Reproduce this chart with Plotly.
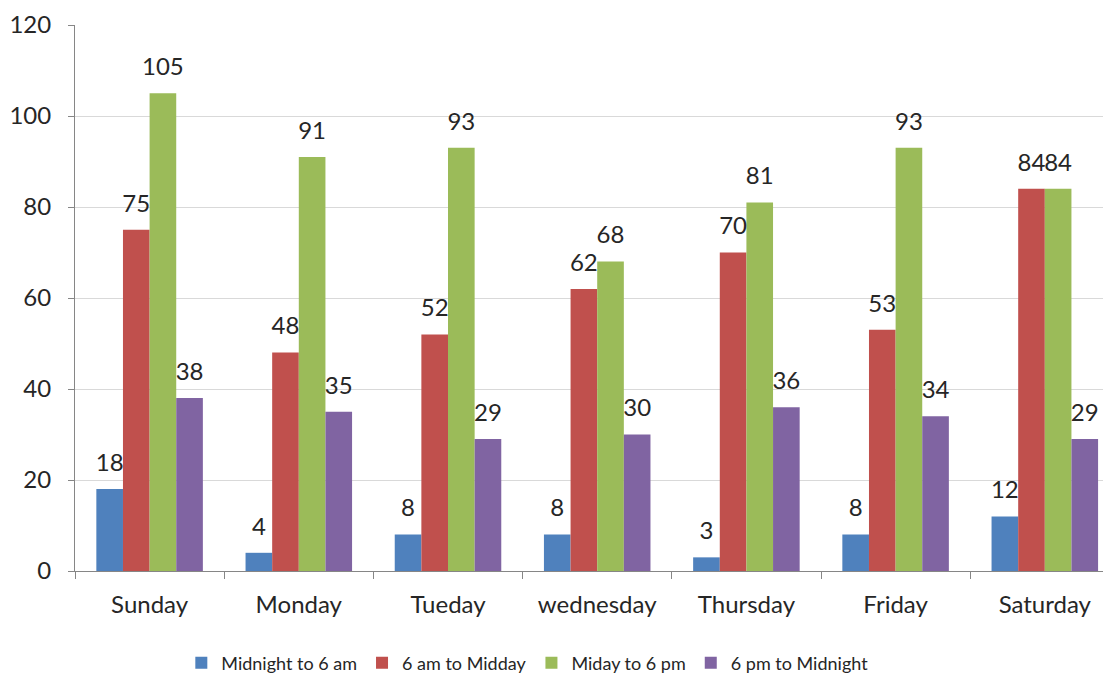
import plotly.graph_objects as go

days = ["Sunday", "Monday", "Tueday", "wednesday", "Thursday", "Friday", "Saturday"]
midnight_6am = [18, 4, 8, 8, 3, 8, 12]
am6_midday = [75, 48, 52, 62, 70, 53, 84]
midday_6pm = [105, 91, 93, 68, 81, 93, 84]
pm6_midnight = [38, 35, 29, 30, 36, 34, 29]

series = [
    ("Midnight to 6 am", midnight_6am, "#4F81BD"),
    ("6 am to Midday", am6_midday, "#C0504D"),
    ("Miday to 6 pm", midday_6pm, "#9BBB59"),
    ("6 pm to Midnight", pm6_midnight, "#8064A2"),
]

FONT = "Lato, Open Sans, sans-serif"
TXT = "#262626"

fig = go.Figure()
for i, (name, vals, color) in enumerate(series):
    fig.add_trace(go.Bar(
        name=name, x=days, y=vals, marker=dict(color=color, line=dict(width=0)),
        offsetgroup=str(i),
    ))
for i, (name, vals, color) in enumerate(series):
    fig.add_trace(go.Scatter(
        x=days, y=vals, mode="markers+text", text=[str(v) for v in vals],
        textposition="top center", offsetgroup=str(i), showlegend=False,
        marker=dict(size=18, color="rgba(0,0,0,0)"), hoverinfo="skip",
        textfont=dict(size=24, color=TXT, family=FONT), cliponaxis=False,
    ))

fig.update_layout(
    width=1095, height=665,
    margin=dict(l=67, r=0, t=17, b=102, autoexpand=False),
    barmode="group", bargap=0.286, bargroupgap=0,
    scattermode="group", scattergap=0.286,
    plot_bgcolor="white", paper_bgcolor="white",
    font=dict(family=FONT, size=21, color=TXT),
    showlegend=True,
    legend=dict(orientation="h", x=0.44, xanchor="center",
                yref="container", y=0.015, yanchor="middle",
                font=dict(size=18, color=TXT), traceorder="normal",
                itemwidth=30),
)
fig.update_yaxes(range=[0, 120], dtick=20, showgrid=True, gridcolor="#D9D9D9", gridwidth=1,
                 showline=True, linecolor="#868686", ticks="outside", ticklen=6,
                 tickcolor="#868686", zeroline=False, tickfont=dict(size=24),
                 ticklabelstandoff=12, automargin=False)
fig.update_xaxes(showline=True, linecolor="#868686", ticks="outside", ticklen=7,
                 tickcolor="#868686", tickson="boundaries", tickfont=dict(size=24),
                 ticklabelstandoff=12, automargin=False, range=[-0.5, 6.39])

fig.write_html("out.html")
